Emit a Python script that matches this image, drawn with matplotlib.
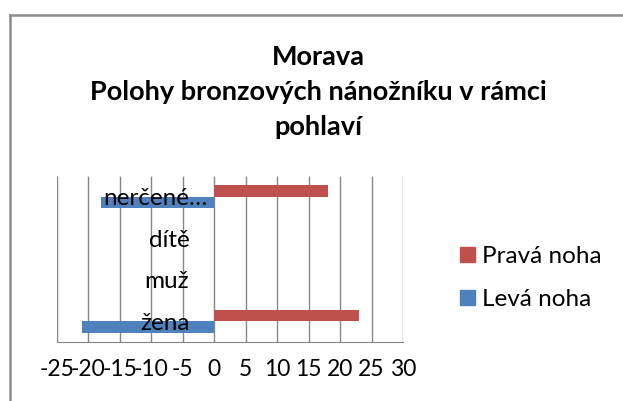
import numpy as np
import matplotlib.pyplot as plt
from matplotlib.lines import Line2D
from matplotlib.patches import Patch
from matplotlib.transforms import ScaledTranslation

plt.rcParams['font.family'] = ['Lato', 'DejaVu Sans']

# Data
categories = ['žena', 'muž', 'dítě', 'nerčené…']
leva_noha = [-21, 0, 0, -18]
prava_noha = [23, 0, 0, 18]
x_ticks = [-25, -20, -15, -10, -5, 0, 5, 10, 15, 20, 25, 30]
title_lines = ['Morava', 'Polohy bronzových nánožníku v rámci', 'pohlaví']

red = '#C0504D'
blue = '#4F81BD'
grid_col = '#868686'

W, H = 623, 401
fig = plt.figure(figsize=(W / 100, H / 100), dpi=100)
ax = fig.add_axes([57 / W, 1 - 342 / H, (403 - 57) / W, (342 - 176) / H])

y = np.arange(len(categories))
h = 0.28
# gridlines under the bars, tick labels above them
ax.vlines(x_ticks, 0, 1, transform=ax.get_xaxis_transform(), color=grid_col,
          linewidth=1, zorder=0.5)
ax.barh(y - h / 2, leva_noha, height=h, color=blue, label='Levá noha', zorder=1)
ax.barh(y + h / 2, prava_noha, height=h, color=red, label='Pravá noha', zorder=1)

ax.set_xlim(-25, 30)
ax.set_ylim(-0.5, len(categories) - 0.5)
ax.set_xticks(x_ticks)
ax.set_xticklabels([str(v) for v in x_ticks])

# category labels sit next to the zero line
ax.spines['left'].set_position(('data', 0))
ax.spines['left'].set_visible(False)
ax.set_yticks(y)
ax.set_yticklabels(categories)
ax.tick_params(axis='y', length=0, pad=18, labelsize=17.5)
ax.tick_params(axis='x', length=0, pad=12, labelsize=16.5)

# the truncated label reaches closer to the axis
lbl = ax.get_yticklabels()[3]
lbl.set_transform(lbl.get_transform() + ScaledTranslation(0.18, 0, fig.dpi_scale_trans))

for s in ['top', 'right']:
    ax.spines[s].set_visible(False)
ax.spines['bottom'].set_color(grid_col)

# title, one line at a time (baselines)
for line, base in zip(title_lines, [65, 100, 135]):
    fig.text(318 / W, 1 - base / H, line, ha='center', va='baseline',
             fontsize=19.5, fontweight='bold')

handles = [Patch(color=red, label='Pravá noha'), Patch(color=blue, label='Levá noha')]
fig.legend(handles=handles, loc='center left', bbox_to_anchor=(460 / W, 1 - 278 / H),
           frameon=False, fontsize=17.5, borderpad=0, borderaxespad=0,
           handlelength=0.62, handleheight=0.62, handletextpad=0.3, labelspacing=0.9)

# chart border (only top and left visible in the reference)
fig.add_artist(Line2D([10 / W, 10 / W], [0, 1 - 15 / H], transform=fig.transFigure,
                      color='#8c8c8c', linewidth=1.8))
fig.add_artist(Line2D([10 / W, 1], [1 - 15 / H, 1 - 15 / H], transform=fig.transFigure,
                      color='#8c8c8c', linewidth=1.8))

fig.savefig('out.png', dpi=100)
